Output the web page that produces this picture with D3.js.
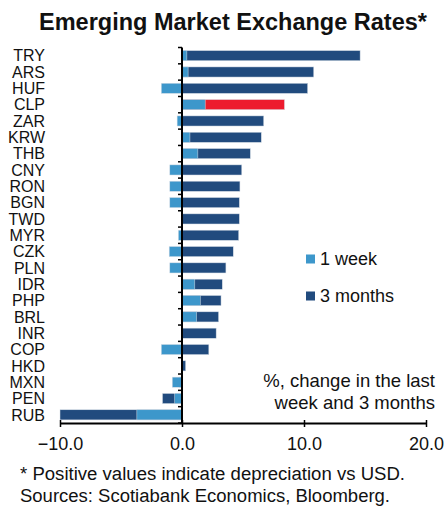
<!DOCTYPE html>
<html>
<head>
<meta charset="utf-8">
<script src="https://cdn.jsdelivr.net/npm/d3@7"></script>
<style>
  body { margin: 0; background: #fff; }
  text { font-family: "Liberation Sans", Arial, sans-serif; fill: #111; }
</style>
</head>
<body>
<div id="chart"></div>
<script>
var currencies = ["TRY", "ARS", "HUF", "CLP", "ZAR", "KRW", "THB", "CNY", "RON", "BGN", "TWD",
  "MYR", "CZK", "PLN", "IDR", "PHP", "BRL", "INR", "COP", "HKD", "MXN", "PEN", "RUB"];

var threeMonths = [14.6, 10.8, 10.3, 8.4, 6.7, 6.5, 5.6, 4.9, 4.75, 4.7, 4.7,
  4.65, 4.2, 3.6, 3.3, 3.2, 3.0, 2.8, 2.2, 0.3, -0.2, -1.6, -10.0];
var oneWeek = [0.4, 0.5, -1.7, 1.9, -0.4, 0.65, 1.3, -1.0, -1.0, -1.0, -0.05,
  -0.3, -1.05, -1.0, 1.05, 1.5, 1.2, 0.05, -1.7, 0.05, -0.8, -0.6, -3.7];
var xTicks = [-10, 0, 10, 20];
var highlight = "CLP";

var width = 446,
  height = 508;

var svg = d3.select("#chart")
  .append("svg")
  .attr("width", width)
  .attr("height", height)

var plotTop = 47.5, plotBottom = 423;
var x = d3.scaleLinear().domain([-10, 20]).range([60, 426]);
var y = d3.scaleBand().domain(currencies).range([plotTop, plotBottom]).paddingInner(0.38).paddingOuter(0.19);

var dark = "#214b7e", light = "#3d97cb", red = "#ed1b2e";

svg.append("text")
  .attr("x", 233).attr("y", 30)
  .attr("text-anchor", "middle")
  .attr("font-size", "23.5px")
  .attr("font-weight", "bold")
  .text("Emerging Market Exchange Rates*")

var rows = currencies.map(function (c, i) {
  return { name: c, m3: threeMonths[i], w1: oneWeek[i] };
});

// 3 month bars underneath
svg.selectAll(".m3")
  .data(rows)
  .enter().append("rect")
  .attr("class", "m3")
  .attr("x", function (d) { return x(Math.min(0, d.m3)); })
  .attr("width", function (d) { return Math.abs(x(d.m3) - x(0)); })
  .attr("y", function (d) { return y(d.name); })
  .attr("height", y.bandwidth())
  .attr("fill", function (d) { return d.name === highlight ? red : dark; })
  .attr("stroke", "#d6dde6").attr("stroke-width", 0.5)

// 1 week bars on top
svg.selectAll(".w1")
  .data(rows)
  .enter().append("rect")
  .attr("class", "w1")
  .attr("x", function (d) { return x(Math.min(0, d.w1)); })
  .attr("width", function (d) { return Math.abs(x(d.w1) - x(0)); })
  .attr("y", function (d) { return y(d.name); })
  .attr("height", y.bandwidth())
  .attr("fill", light)
  .attr("stroke", "#d6dde6").attr("stroke-width", 0.5)

// category labels
svg.selectAll(".cat")
  .data(currencies)
  .enter().append("text")
  .attr("class", "cat")
  .attr("x", 45)
  .attr("y", function (d) { return y(d) + y.bandwidth() / 2; })
  .attr("dy", "0.36em")
  .attr("text-anchor", "end")
  .attr("font-size", "16px")
  .text(function (d) { return d; })

// y axis line at zero with ticks at band edges
var edges = d3.range(currencies.length + 1).map(function (i) {
  return plotTop + i * (plotBottom - plotTop) / currencies.length;
});
svg.append("line")
  .attr("x1", x(0)).attr("x2", x(0))
  .attr("y1", edges[0]).attr("y2", plotBottom)
  .attr("stroke", "#000").attr("stroke-width", 2)
svg.selectAll(".ytick")
  .data(edges)
  .enter().append("line")
  .attr("x1", x(0) - 4).attr("x2", x(0))
  .attr("y1", function (d) { return d; }).attr("y2", function (d) { return d; })
  .attr("stroke", "#000").attr("stroke-width", 1.5)

// x axis
var xAxis = d3.axisBottom(x).tickValues(xTicks).tickFormat(d3.format(".1f")).tickSize(4).tickSizeOuter(0);
var gx = svg.append("g")
  .attr("transform", "translate(0," + plotBottom + ")")
  .call(xAxis)
gx.select(".domain").attr("stroke", "#000").attr("stroke-width", 2)
gx.selectAll(".tick line").attr("stroke", "#000").attr("stroke-width", 1.5).attr("y1", -3)
gx.selectAll(".tick text")
  .attr("font-size", "18px")
  .attr("font-family", "Liberation Sans, Arial, sans-serif")
  .attr("fill", "#111")
  .attr("y", 27)
  .attr("dy", null)

// legend
var legend = [["1 week", light, 259], ["3 months", dark, 296]];
legend.forEach(function (l) {
  svg.append("rect")
    .attr("x", 306).attr("y", l[2] - 4.5)
    .attr("width", 9).attr("height", 9)
    .attr("fill", l[1])
  svg.append("text")
    .attr("x", 320).attr("y", l[2])
    .attr("dy", "0.36em")
    .attr("font-size", "18px")
    .text(l[0])
})

// note
svg.append("text")
  .attr("x", 435).attr("y", 387)
  .attr("text-anchor", "end")
  .attr("font-size", "18.5px")
  .text("%, change in the last")
svg.append("text")
  .attr("x", 435).attr("y", 409)
  .attr("text-anchor", "end")
  .attr("font-size", "18.5px")
  .text("week and 3 months")

// footnotes
svg.append("text")
  .attr("x", 20).attr("y", 480)
  .attr("font-size", "18px")
  .attr("textLength", 385)
  .attr("lengthAdjust", "spacingAndGlyphs")
  .text("* Positive values indicate depreciation vs USD.")
svg.append("text")
  .attr("x", 20).attr("y", 502)
  .attr("font-size", "18px")
  .attr("textLength", 370)
  .attr("lengthAdjust", "spacingAndGlyphs")
  .text("Sources: Scotiabank Economics, Bloomberg.")
</script>
</body>
</html>
